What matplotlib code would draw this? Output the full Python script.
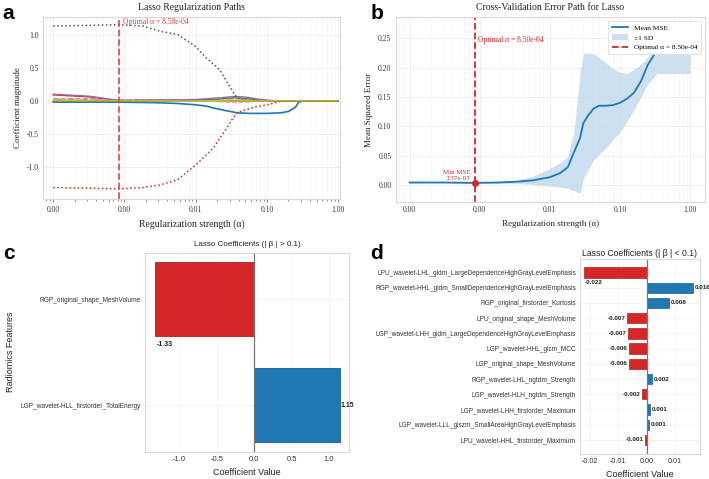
import numpy as np
import matplotlib
matplotlib.use("Agg")
import matplotlib.pyplot as plt
from matplotlib.ticker import FormatStrFormatter, LogLocator, NullFormatter

# ---------------- data: panel a (coefficient paths) ----------------
path_alpha = [1.0e-4, 3.2e-4, 8.5e-4, 1.8e-3, 3.2e-3, 5.6e-3, 1.0e-2, 1.4e-2, 1.8e-2,
              2.2e-2, 2.7e-2, 3.2e-2, 3.8e-2, 4.5e-2, 5.6e-2, 7.0e-2, 0.1, 0.13, 0.16,
              0.2, 0.25, 0.28, 0.32, 0.5, 0.75, 1.0]
coef_total_energy = [1.13, 1.14, 1.15, 1.13, 1.05, 1.00, 0.82, 0.65, 0.55, 0.46, 0.30, 0.17,
                     0.04, 0.02, 0.01, 0.0, 0, 0, 0, 0, 0, 0, 0, 0, 0, 0]
coef_mesh_volume = [-1.31, -1.32, -1.33, -1.31, -1.27, -1.19, -0.97, -0.82, -0.70, -0.56, -0.42,
                    -0.29, -0.18, -0.15, -0.12, -0.09, -0.06, -0.03, -0.005, 0, 0, 0, 0, 0, 0, 0]
coef_blue = [-0.02, -0.02, -0.02, -0.025, -0.03, -0.04, -0.06, -0.08, -0.11, -0.13, -0.15, -0.165,
             -0.18, -0.185, -0.19, -0.19, -0.19, -0.185, -0.18, -0.16, -0.10, -0.02, 0, 0, 0, 0]
coef_purple = [0.10, 0.07, 0.005, 0.01, 0.01, 0.015, 0.02, 0.03, 0.04, 0.045, 0.055, 0.062,
               0.065, 0.06, 0.05, 0.03, 0.01, 0.0, 0, 0, 0, 0, 0, 0, 0, 0]
coef_red = [0.09, 0.06, 0.0, 0, 0, 0, 0, 0, 0, 0, 0, 0, 0, 0, 0, 0, 0, 0, 0, 0, 0, 0, 0, 0, 0, 0]
coef_orange = [0.03, 0.03, 0.015, 0.012, 0.01, 0.01, 0.008, 0.006, 0.005, 0.004, 0.003, 0.002,
               0.0, 0, 0, 0, 0, 0, 0, 0, 0, 0, 0, 0, 0, 0]
coef_green = [-0.01, -0.01, 0.0, 0.005, 0.01, 0.012, 0.015, 0.02, 0.025, 0.03, 0.04, 0.045,
              0.045, 0.04, 0.03, 0.02, 0.005, 0.0, 0, 0, 0, 0, 0, 0, 0, 0]
coef_gray = [0.01, 0.01, 0.0, 0.0, 0.0, 0.0, 0.0, -0.005, -0.01, -0.015, -0.02, -0.025,
             -0.03, -0.025, -0.02, -0.01, 0.0, 0, 0, 0, 0, 0, 0, 0, 0, 0]
coef_pink = [0.02, 0.02, 0.01, 0.01, 0.01, 0.012, 0.015, 0.02, 0.02, 0.025, 0.03, 0.03,
             0.03, 0.025, 0.02, 0.01, 0.0, 0, 0, 0, 0, 0, 0, 0, 0, 0]
coef_olive = [0.0, 0.0, 0.0, 0.0, 0.0, 0.0, 0.0, 0.0, 0.005, 0.005, 0.01, 0.01,
              0.01, 0.01, 0.005, 0.0, 0.0, 0, 0, 0, 0, 0, 0, 0, 0, 0]

optimal_alpha = 8.5e-4

# ---------------- data: panel b (CV error) ----------------
cv_alpha = [1.0e-4, 3.2e-4, 8.5e-4, 1.8e-3, 3.2e-3, 5.6e-3, 1.0e-2, 1.4e-2, 1.8e-2, 2.2e-2,
            2.7e-2, 3.0e-2, 3.5e-2, 4.2e-2, 5.0e-2, 6.3e-2, 7.9e-2, 0.1, 0.126, 0.158,
            0.2, 0.25, 0.316, 0.34, 0.56, 1.0]
cv_mean = [0.0040, 0.0040, 0.00337, 0.0040, 0.0052, 0.0075, 0.013, 0.020, 0.030, 0.055,
           0.080, 0.105, 0.118, 0.130, 0.135, 0.135, 0.136, 0.140, 0.147, 0.157,
           0.177, 0.205, 0.224, 0.2325, 0.2325, 0.2325]
cv_upper = [0.0045, 0.0045, 0.0040, 0.0055, 0.008, 0.014, 0.028, 0.038, 0.048, 0.090,
            0.190, 0.224, 0.225, 0.224, 0.218, 0.208, 0.199, 0.192, 0.190, 0.197,
            0.206, 0.218, 0.245, 0.275, 0.275, 0.275]
cv_lower = [0.0035, 0.0035, 0.0030, 0.0028, 0.0025, 0.001, -0.002, -0.004, -0.006, -0.010,
            -0.014, 0.010, 0.025, 0.042, 0.052, 0.063, 0.077, 0.090, 0.108, 0.128,
            0.150, 0.172, 0.186, 0.190, 0.190, 0.190]
min_mse = 3.37e-3

# ---------------- data: panel c ----------------
big_features = ["RGP_original_shape_MeshVolume", "LGP_wavelet-HLL_firstorder_TotalEnergy"]
big_coefs = [-1.33, 1.15]

# ---------------- data: panel d ----------------
small_features = [
    "LPU_wavelet-LHL_gldm_LargeDependenceHighGrayLevelEmphasis",
    "RGP_wavelet-HHL_gldm_SmallDependenceHighGrayLevelEmphasis",
    "RGP_original_firstorder_Kurtosis",
    "LPU_original_shape_MeshVolume",
    "LGP_wavelet-LHH_gldm_LargeDependenceHighGrayLevelEmphasis",
    "LGP_wavelet-HHL_glcm_MCC",
    "LGP_original_shape_MeshVolume",
    "RGP_wavelet-LHL_ngtdm_Strength",
    "LGP_wavelet-HLH_ngtdm_Strength",
    "LGP_wavelet-LHH_firstorder_Maximum",
    "LGP_wavelet-LLL_glszm_SmallAreaHighGrayLevelEmphasis",
    "LPU_wavelet-HHL_firstorder_Maximum",
]
small_coefs = [-0.0222, 0.0164, 0.0080, -0.0071, -0.0067, -0.0064, -0.0062, 0.0019,
               -0.0017, 0.0012, 0.0008, -0.0007]

RED = "#d62728"
BLUE = "#1f77b4"
SERIF = ["Liberation Serif", "DejaVu Serif"]
SANS = ["Liberation Sans", "DejaVu Sans"]
SPINE = "#d9d9d9"
GRID = "#ececec"

fig = plt.figure(figsize=(7.09, 4.79), dpi=100)


def style_axes(ax, family, tick_size):
    for s in ax.spines.values():
        s.set_color(SPINE)
        s.set_linewidth(0.8)
    ax.set_facecolor("white")
    ax.tick_params(which="both", colors="#333333", labelsize=tick_size, length=0, pad=3)
    for lab in ax.get_xticklabels() + ax.get_yticklabels():
        lab.set_family(family)


# ---------------- panel a ----------------
axa = fig.add_axes([0.061, 0.585, 0.419, 0.380])
axa.set_xscale("log")
axa.grid(True, which="major", color=GRID, lw=0.6)
axa.grid(True, which="minor", color="#f4f4f4", lw=0.4)
axa.set_axisbelow(True)
paths = [
    (coef_red, RED, "-", 1.0),
    (coef_orange, "#ff7f0e", "--", 1.0),
    (coef_pink, "#e377c2", "-.", 0.9),
    (coef_gray, "#bbbbbb", "--", 0.9),
    (coef_green, "#2ca02c", "-", 1.0),
    (coef_purple, "#9467bd", "-", 1.0),
    (coef_blue, BLUE, "-", 1.2),
    (coef_total_energy, "#5a5060", ":", 1.1),
    (coef_mesh_volume, RED, ":", 1.1),
    (coef_olive, "#bcbd22", "-", 1.0),
]
for vals, col, ls, lw in paths:
    axa.plot(path_alpha, vals, color=col, ls=ls, lw=lw)
axa.axvline(optimal_alpha, color="#e0403a", ls="--", lw=1.3, alpha=0.9)
axa.text(optimal_alpha * 1.12, 1.19, "Optimal α = 8.50e-04", color="#e0403a",
         fontsize=5.5, family=SERIF, va="center", ha="left")
axa.set_xlim(10 ** -4.14, 10 ** 0.03)
axa.set_ylim(-1.48, 1.27)
axa.set_yticks([-1.0, -0.5, 0.0, 0.5, 1.0])
axa.xaxis.set_major_locator(LogLocator(base=10, numticks=10))
axa.xaxis.set_major_formatter(FormatStrFormatter("%.2f"))
axa.xaxis.set_minor_formatter(NullFormatter())
axa.yaxis.set_major_formatter(FormatStrFormatter("%.1f"))
style_axes(axa, SERIF, 5.5)
axa.tick_params(axis="x", which="both", bottom=True, length=2, color="#555555", width=0.5)
axa.tick_params(axis="x", which="minor", length=1.5)
axa.set_title("Lasso Regularization Paths", fontsize=7, family=SERIF, pad=5, color="#222222")
axa.set_xlabel("Regularization strength (α)", fontsize=7, family=SERIF, color="#222222")
axa.set_ylabel("Coefficient magnitude", fontsize=6.5, family=SERIF, color="#222222")

# ---------------- panel b ----------------
axb = fig.add_axes([0.558, 0.578, 0.436, 0.386])
axb.set_xscale("log")
axb.grid(True, which="major", color=GRID, lw=0.6)
axb.grid(True, which="minor", color="#f4f4f4", lw=0.4)
axb.set_axisbelow(True)
axb.fill_between(cv_alpha, cv_lower, cv_upper, color="#bcd6ea", alpha=0.75, lw=0,
                 label="±1 SD")
axb.plot(cv_alpha, cv_mean, color=BLUE, lw=1.3, label="Mean MSE")
axb.axvline(optimal_alpha, color=RED, ls="--", lw=1.3,
            label="Optimal α = 8.50e-04")
axb.plot([optimal_alpha], [min_mse], "o", color=RED, ms=4, zorder=5)
axb.annotate("Min MSE\n3.37e-03", xy=(optimal_alpha, min_mse), xytext=(-3, 1.5),
             textcoords="offset points", ha="right", va="bottom", fontsize=5,
             family=SERIF, color=RED, multialignment="right")
axb.text(optimal_alpha * 1.12, 0.247, "Optimal α = 8.50e-04", color=RED, fontsize=5.5,
         family=SERIF, va="center", ha="left")
axb.set_xlim(10 ** -4.2, 10 ** 0.21)
axb.set_ylim(-0.0295, 0.286)
axb.set_yticks([0.0, 0.05, 0.10, 0.15, 0.20, 0.25])
axb.xaxis.set_major_locator(LogLocator(base=10, numticks=10))
axb.xaxis.set_major_formatter(FormatStrFormatter("%.2f"))
axb.xaxis.set_minor_formatter(NullFormatter())
axb.yaxis.set_major_formatter(FormatStrFormatter("%.2f"))
style_axes(axb, SERIF, 5.5)
axb.set_title("Cross-Validation Error Path for Lasso", fontsize=7, family=SERIF, pad=5,
              color="#222222")
axb.set_xlabel("Regularization strength (α)", fontsize=6.5, family=SERIF, color="#222222")
axb.set_ylabel("Mean Squared Error", fontsize=6.5, family=SERIF, color="#222222")
h, l = axb.get_legend_handles_labels()
order = [l.index("Mean MSE"), l.index("±1 SD"), l.index("Optimal α = 8.50e-04")]
leg = axb.legend([h[i] for i in order], [l[i] for i in order], loc="upper right",
                 prop={"family": SERIF, "size": 5.3}, frameon=True, framealpha=1,
                 edgecolor="#dddddd", fancybox=True, borderpad=0.5, handlelength=2.2)
leg.get_frame().set_linewidth(0.6)

# ---------------- panel c ----------------
axc = fig.add_axes([0.2045, 0.057, 0.288, 0.4155])
yc = np.arange(len(big_features))
colors_c = [RED if v < 0 else BLUE for v in big_coefs]
axc.grid(True, axis="both", color="#f2f2f2", lw=0.6)
axc.set_axisbelow(True)
axc.barh(yc, big_coefs, height=0.7, color=colors_c, edgecolor=["#b22020", "#17608f"], lw=0.6)
axc.axvline(0, color="#777777", lw=0.9)
for i, v in enumerate(big_coefs):
    if v < 0:
        axc.text(v + 0.03, i + 0.43, f"{v:.2f}", fontsize=5, fontweight="bold",
                 family=SANS, ha="left", va="center", color="#222222")
    else:
        axc.text(v + 0.01, i, f"{v:.2f}", fontsize=5, fontweight="bold",
                 family=SANS, ha="left", va="center", color="#222222")
axc.set_yticks(yc)
axc.set_yticklabels(big_features)
axc.set_ylim(1.44, -0.44)
axc.set_xlim(-1.46, 1.27)
axc.set_xticks([-1.0, -0.5, 0.0, 0.5, 1.0])
axc.xaxis.set_major_formatter(FormatStrFormatter("%.1f"))
style_axes(axc, SANS, 5.5)
axc.tick_params(axis="y", labelsize=4.7)
axc.set_title("Lasso Coefficients (| β | > 0.1)", fontsize=5.8, family=SANS, pad=5,
              color="#222222")
axc.set_xlabel("Coefficient Value", fontsize=6.5, family=SANS, color="#222222")
axc.set_ylabel("Radiomics Features", fontsize=6.5, family=SANS, color="#222222")
axc.yaxis.set_label_coords(-0.635, 0.5)

# ---------------- panel d ----------------
axd = fig.add_axes([0.818, 0.053, 0.169, 0.406])
yd = np.arange(len(small_features))
colors_d = [RED if v < 0 else BLUE for v in small_coefs]
edges_d = ["#b22020" if v < 0 else "#17608f" for v in small_coefs]
axd.grid(True, axis="both", color="#f2f2f2", lw=0.6)
axd.set_axisbelow(True)
axd.barh(yd, small_coefs, height=0.68, color=colors_d, edgecolor=edges_d, lw=0.5)
axd.axvline(0, color="#777777", lw=0.9)
for i, v in enumerate(small_coefs):
    if i == 0:
        axd.text(v + 0.0004, i + 0.68, f"{v:.3f}", fontsize=4.5, fontweight="bold",
                 family=SANS, ha="left", va="center", color="#222222")
    elif v < 0:
        axd.text(v - 0.0005, i, f"{v:.3f}", fontsize=4.5, fontweight="bold",
                 family=SANS, ha="right", va="center", color="#222222")
    else:
        axd.text(v + 0.0005, i, f"{v:.3f}", fontsize=4.5, fontweight="bold",
                 family=SANS, ha="left", va="center", color="#222222")
axd.set_yticks(yd)
axd.set_yticklabels(small_features)
axd.set_ylim(11.9, -0.88)
axd.set_xlim(-0.0236, 0.0188)
axd.set_xticks([-0.02, -0.01, 0.0, 0.01])
axd.xaxis.set_major_formatter(FormatStrFormatter("%.2f"))
style_axes(axd, SANS, 5.2)
axd.tick_params(axis="y", labelsize=4.7)
axd.set_title("Lasso Coefficients (| β | < 0.1)", fontsize=6.2, family=SANS, pad=2,
              color="#222222")
axd.set_xlabel("Coefficient Value", fontsize=6.5, family=SANS, color="#222222")

# ---------------- panel letters ----------------
for x, y, s in [(0.004, 0.972, "a"), (0.522, 0.972, "b"), (0.004, 0.47, "c"), (0.522, 0.47, "d")]:
    fig.text(x, y, s, fontsize=15, fontweight="bold", family=SANS, va="center", ha="left")

fig.savefig("out.png", dpi=100)
